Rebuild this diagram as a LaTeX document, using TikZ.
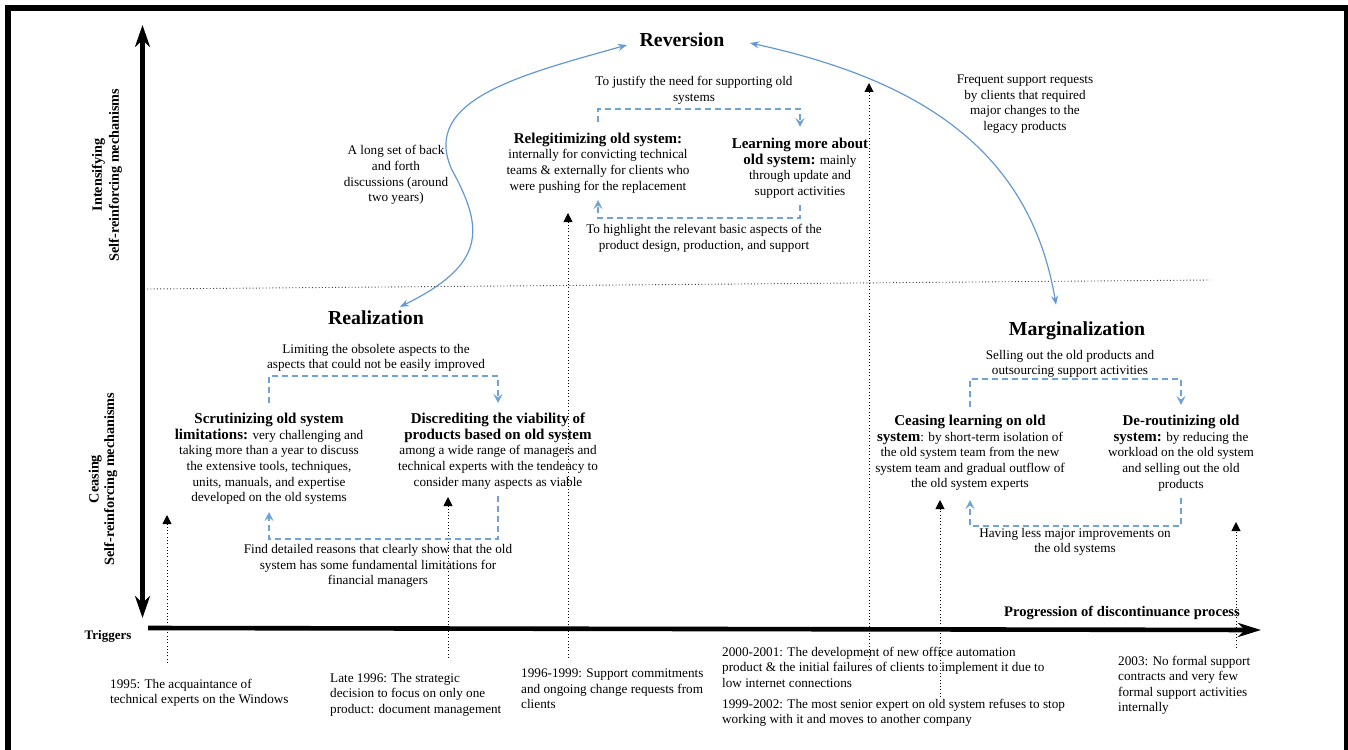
\documentclass[tikz,border=0pt]{standalone}
\usepackage{fontspec}
\setmainfont{Liberation Serif}
\usetikzlibrary{arrows.meta}

\definecolor{flowblue}{RGB}{100,152,212}
\definecolor{dashblue}{RGB}{112,162,216}

% bold lead-in of a mechanism description
\newcommand{\headtxt}[1]{{\fontsize{15}{15.6}\selectfont\bfseries #1}}

\begin{document}
\begin{tikzpicture}[x=1pt,y=-1pt,
  body/.style={font=\fontsize{13.2}{15.6}\selectfont, align=center, inner sep=0pt},
  trig/.style={font=\fontsize{13.2}{15.4}\selectfont, align=left, anchor=north west, inner sep=0pt},
  title/.style={font=\fontsize{19.8}{22}\selectfont\bfseries, inner sep=0pt},
  axislab/.style={font=\fontsize{14.2}{17}\selectfont\bfseries, align=center, rotate=90, inner sep=0pt},
  axisline/.style={line width=4.6pt},
  flow/.style={draw=flowblue, line width=1.2pt,
    {Stealth[length=9pt,width=7pt,inset=3pt]}-{Stealth[length=9pt,width=7pt,inset=3pt]}},
  dashconn/.style={draw=dashblue, line width=1.3pt, dash pattern=on 6pt off 4pt,
    -{Stealth[length=9pt,width=9pt,inset=3.5pt]}},
  trigline/.style={line width=0.9pt, dash pattern=on 1pt off 2.3pt,
    -{Triangle[length=9pt,width=9pt]}},
  divider/.style={line width=0.9pt, black!75, dash pattern=on 1pt off 2.3pt},
]
\useasboundingbox (0,0) rectangle (1348,749);

% frame
\draw[line width=6pt, line join=miter] (8,752) -- (8,8) -- (1347,8) -- (1347,752);

% axes
\coordinate (vtop) at (142.5,25);
\coordinate (vbot) at (142.5,618);
\coordinate (hleft) at (148,628);
\coordinate (hright) at (1261,630);
\draw[axisline, {Stealth[length=22pt,width=15pt,inset=7pt]}-{Stealth[length=22pt,width=15pt,inset=7pt]}] (vtop) -- (vbot);
\draw[axisline, -{Stealth[length=23pt,width=14pt,inset=7pt]}] (hleft) -- (hright);

% divider between intensifying and ceasing mechanisms
\coordinate (divL) at (147,289);
\coordinate (divR) at (1210,280);
\draw[divider] (divL) -- (divR);

% axis labels
\node[axislab] (intlab) at (107,175) {Intensifying\\Self-reinforcing mechanisms};
\node[axislab, font=\fontsize{14.2}{15.5}\selectfont\bfseries] (ceaselab) at (103,479) {Ceasing\\Self-reinforcing mechanisms};
\node[font=\fontsize{13}{15}\selectfont\bfseries, inner sep=0pt] (triglab) at (108,636) {Triggers};
\node[font=\fontsize{14.6}{16}\selectfont\bfseries, inner sep=0pt] (proglab) at (1122,613) {Progression of discontinuance process};

% phase titles
\node[title] (rev) at (682,40) {Reversion};
\node[title] (real) at (376,318) {Realization};
\node[title] (marg) at (1077,331) {Marginalization};

% reversion phase
\node[body] (justify) at (694,90) {To justify the need for supporting old\\systems};
\node[body] (relegit) at (598,163) {\headtxt{Relegitimizing old system:}\\internally for convicting technical\\teams \& externally for clients who\\were pushing for the replacement};
\node[body] (learn) at (800,168) {\headtxt{Learning more about}\\\headtxt{old system:} mainly\\through update and\\support activities};
\node[body] (highlight) at (704,238) {To highlight the relevant basic aspects of the\\product design, production, and support};

% transitions between phases
\node[body] (backforth) at (396,175) {A long set of back\\and forth\\discussions (around\\two years)};
\node[body] (frequent) at (1025,104) {Frequent support requests\\by clients that required\\major changes to the\\legacy products};

% realization phase
\node[body] (limiting) at (376,358) {Limiting the obsolete aspects to the\\aspects that could not be easily improved};
\node[body] (scrut) at (269,459) {\headtxt{Scrutinizing old system}\\\headtxt{limitations:} very challenging and\\taking more than a year to discuss\\the extensive tools, techniques,\\units, manuals, and expertise\\developed on the old systems};
\node[body] (discr) at (498,451) {\headtxt{Discrediting the viability of}\\\headtxt{products based on old system}\\among a wide range of managers and\\technical experts with the tendency to\\consider many aspects as viable};
\node[body] (finddet) at (378,566) {Find detailed reasons that clearly show that the old\\system has some fundamental limitations for\\financial managers};

% marginalization phase
\node[body] (selling) at (1070,364) {Selling out the old products and\\outsourcing support activities};
\node[body] (ceasel) at (970,453) {\headtxt{Ceasing learning on old}\\\headtxt{system}: by short-term isolation of\\the old system team from the new\\system team and gradual outflow of\\the old system experts};
\node[body] (derout) at (1181,453) {\headtxt{De-routinizing old}\\\headtxt{system:} by reducing the\\workload on the old system\\and selling out the old\\products};
\node[body] (lessimp) at (1075,542) {Having less major improvements on\\the old systems};

% triggers
\node[trig] (tr1995) at (110,679) {1995: The acquaintance of\\technical experts on the Windows};
\node[trig] (tr1996) at (330,673) {Late 1996: The strategic\\decision to focus on only one\\product: document management};
\node[trig] (tr9699) at (521,669) {1996-1999: Support commitments\\and ongoing change requests from\\clients};
\node[trig] (tr0001) at (722,647) {2000-2001: The development of new office automation\\product \& the initial failures of clients to implement it due to\\low internet connections};
\node[trig] (tr9902) at (722,699) {1999-2002: The most senior expert on old system refuses to stop\\working with it and moves to another company};
\node[trig] (tr2003) at (1118,656) {2003: No formal support\\contracts and very few\\formal support activities\\internally};

% trigger markers
\coordinate (m1a) at (167,663);  \coordinate (m1b) at (167,515);
\coordinate (m2a) at (448,658);  \coordinate (m2b) at (448,497);
\coordinate (m3a) at (568,658);  \coordinate (m3b) at (568,213);
\coordinate (m4a) at (869,660);  \coordinate (m4b) at (869,83);
\coordinate (m5a) at (940,697);  \coordinate (m5b) at (940,500);
\coordinate (m6a) at (1236,648); \coordinate (m6b) at (1236,522);
\foreach \k in {1,...,6} \draw[trigline] (m\k a) -- (m\k b);

% dashed feedback loops
\draw[dashconn] (relegit.north |- 0,122) -- (relegit.north |- 0,109) -| (learn.north |- 0,127);
\draw[dashconn] (learn.south |- 0,205) -- (learn.south |- 0,218) -| (relegit.south |- 0,200);
\draw[dashconn] (scrut.north |- 0,403) -- (scrut.north |- 0,376) -| (discr.north |- 0,403);
\draw[dashconn] (discr.south |- 0,496) -- (discr.south |- 0,539) -| (scrut.south |- 0,512);
\draw[dashconn] (ceasel.north |- 0,407) -- (ceasel.north |- 0,379) -| (derout.north |- 0,405);
\draw[dashconn] (derout.south |- 0,498) -- (derout.south |- 0,526) -| (ceasel.south |- 0,500);

% phase transitions
\draw[flow] ([shift={(-12.5pt,-5pt)}]rev.west) .. controls (520,75) and (420,100) .. (452,170)
  .. controls (485,230) and (485,265) .. ([shift={(24pt,4pt)}]real.north);
\draw[flow] ([shift={(25.5pt,-3pt)}]rev.east) .. controls (920,80) and (1030,150) .. ([shift={(-21pt,17pt)}]marg.north);
\end{tikzpicture}
\end{document}
